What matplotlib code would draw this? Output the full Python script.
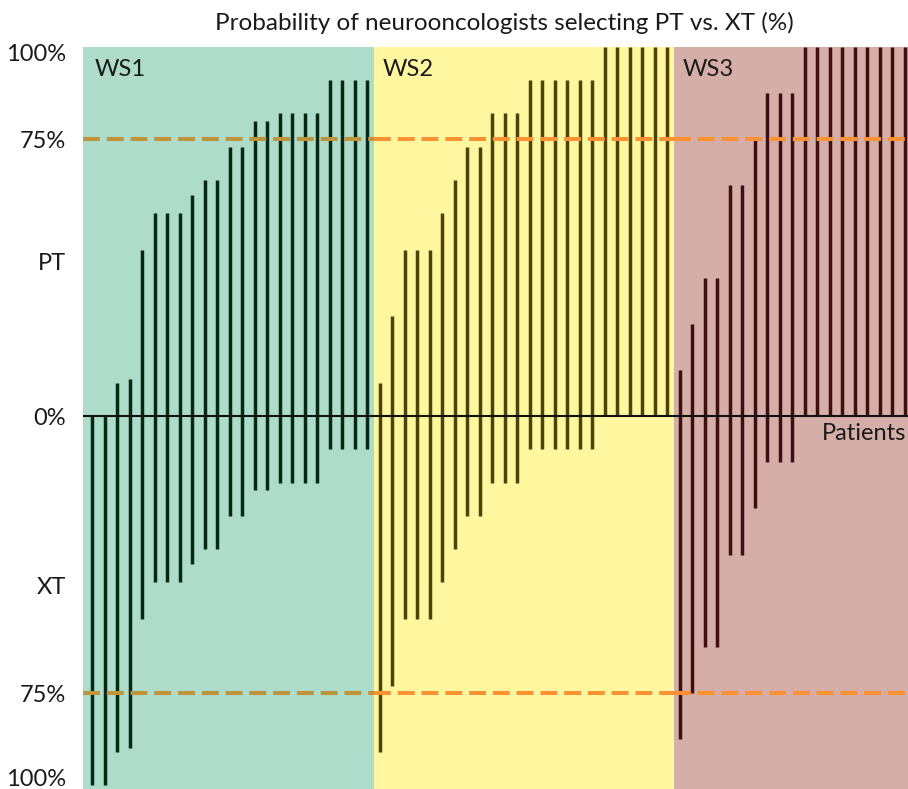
import numpy as np
import matplotlib
matplotlib.use("Agg")
import matplotlib.pyplot as plt

plt.rcParams['font.family'] = ['Lato', 'DejaVu Sans']

# probability (%) of neurooncologists selecting PT, one value per patient
ws1_pt = [0, 0, 9, 10, 45, 55, 55, 55, 60, 64, 64, 73, 73, 80, 80,
          82, 82, 82, 82, 91, 91, 91, 91]
ws2_pt = [9, 27, 45, 45, 45, 55, 64, 73, 73, 82, 82, 82,
          91, 91, 91, 91, 91, 91, 100, 100, 100, 100, 100, 100]
ws3_pt = [12.5, 25, 37.5, 37.5, 62.5, 62.5, 75, 87.5, 87.5, 87.5,
          100, 100, 100, 100, 100, 100, 100, 100, 100]

groups = ['WS1', 'WS2', 'WS3']
bg_colors = ['#addccb', '#fff7a0', '#d6aea8']
bar_colors = ['#052814', '#4c4400', '#3c1012']
dash_colors = ['#bf953c', '#fa9132', '#fa9132']

# label positions on the y axis (outer 100% labels nudged inward to stay visible)
yticks = [98.6, 75, 42, 0, -46, -75, -97.8]
yticklabels = ['100%', '75%', 'PT', '0%', 'XT', '75%', '100%']

fig = plt.figure(figsize=(9.08, 7.89), dpi=100)
ax = fig.add_axes([83 / 908, 0, 1 - 83 / 908, 1 - 47 / 789])

series = [ws1_pt, ws2_pt, ws3_pt]
n = sum(len(s) for s in series)
xmin, xmax = -0.74, n - 0.75
edges = [xmin]
start = 0
for s in series:
    start += len(s)
    edges.append(start - 0.45)
edges[-1] = xmax

for k, pt in enumerate(series):
    lo, hi = edges[k], edges[k + 1]
    ax.axvspan(lo, hi, color=bg_colors[k], lw=0, zorder=0)
    x = np.arange(len(pt)) + sum(len(s) for s in series[:k])
    pt = np.array(pt, dtype=float)
    ax.vlines(x, pt - 100, pt, color=bar_colors[k], lw=2.5, zorder=2)
    for yv in (75, -75):
        ax.plot([lo, hi], [yv, yv], color=dash_colors[k], lw=2.9,
                dashes=(4.2, 1.7), zorder=3, solid_capstyle='butt',
                dash_capstyle='butt')
    ax.text(x[0] + 0.2, 94, groups[k], fontsize=17, va='center',
            ha='left', color='#1a1a1a', zorder=4)

ax.axhline(0, color='#111111', lw=1.5, zorder=3)
ax.text(0.998, -1.8, 'Patients', transform=ax.get_yaxis_transform(),
        fontsize=17, ha='right', va='top', color='#1a1a1a', zorder=4)

ax.set_xlim(xmin, xmax)
ax.set_ylim(-101, 100)
ax.set_xticks([])
ax.set_yticks(yticks)
ax.set_yticklabels(yticklabels, fontsize=17, color='#1a1a1a')
ax.tick_params(axis='y', length=0, pad=12)
for sp in ax.spines.values():
    sp.set_visible(False)

fig.text(0.556, 0.971, 'Probability of neurooncologists selecting PT vs. XT (%)',
         fontsize=17.5, ha='center', va='center', color='#1a1a1a')

fig.savefig('out.png', dpi=100)
